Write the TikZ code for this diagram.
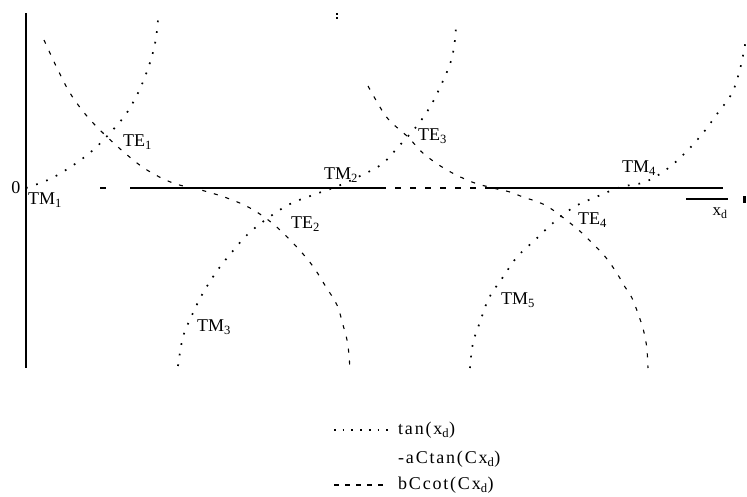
\documentclass[tikz,border=0pt]{standalone}
\usepackage{fontspec}
\setmainfont{Liberation Serif}
\newfontfamily\legfont[LetterSpace=10]{Liberation Serif}
\begin{document}
\begin{tikzpicture}[x=1pt,y=-1pt,
  tancurve/.style={line width=1.7pt, dash pattern=on 1.7pt off 9pt},
  cotcurve/.style={line width=1.1pt, dash pattern=on 4pt off 8pt},
  axisline/.style={line width=1.6pt},
  lbl/.style={inner sep=0pt, anchor=west, font=\fontsize{18}{20}\selectfont},
  leg/.style={inner sep=0pt, anchor=west, font=\fontsize{18}{20}\selectfont\legfont}]
\useasboundingbox (0,0) rectangle (747,496);
% axes
\coordinate (ytop) at (26,13);
\coordinate (ybot) at (26,368);
\draw[axisline] (ytop) -- (ybot);
\coordinate (xa1) at (130,188);
\coordinate (xa2) at (380,188);
\coordinate (xa3) at (490,188);
\coordinate (xa4) at (723,188);
\draw[axisline] (xa1) -- (xa2);
\draw[line width=1.1pt, dash pattern=on 6pt off 9pt] (xa2) -- (xa3);
\draw[axisline] (xa3) -- (xa4);
\draw[line width=1.1pt] (100,188) -- (106,188);
\coordinate (xb1) at (686,199);
\coordinate (xb2) at (728,199);
\draw[axisline] (xb1) -- (xb2);
\fill (743,196) rectangle (746,203);
\fill (336,13) rectangle (338,15);
\fill (336,17) rectangle (338,19);
% tan branches (dotted)
\draw[tancurve] plot[smooth, tension=0.6] coordinates {(26,188) (50,179) (72,166) (92,151) (110,133) (126,114) (138,93) (146,74) (152,56) (156,38) (158,20)};
\draw[tancurve] plot[smooth, tension=0.6] coordinates {(178,366) (183,337) (192,315) (203,293) (217,271) (232,252) (248,234) (268,218) (290,204) (313,195) (338,186) (360,176) (382,164) (399,146) (416,127) (430,107) (442,83) (451,61) (455,40) (456,22)};
\draw[tancurve] plot[smooth, tension=0.6] coordinates {(470,368) (473,343) (480,322) (489,298) (503,277) (517,257) (535,240) (553,223) (574,207) (596,197) (621,187) (645,182) (667,169) (686,152) (703,133) (717,114) (732,93) (740,69) (745,45) (746,38)};
% cot branches (dashed)
\draw[cotcurve] plot[smooth, tension=0.6] coordinates {(44,40) (57,68) (70,93) (86,115) (103,133) (126,154) (147,170) (173,183) (201,190) (227,198) (250,208) (272,223) (293,243) (312,265) (326,287) (337,305) (343,325) (347,340) (349,355) (350,372)};
\draw[cotcurve] plot[smooth, tension=0.6] coordinates {(368,86) (377,102) (385,115) (393,124) (408,137) (424,154) (447,170) (472,182) (493,188) (510,192) (523,197) (538,202) (550,208) (570,223) (582,233) (592,243) (602,253) (610,263) (618,275) (625,287) (632,298) (641,322) (645,337) (647,350) (648,368)};
% labels
\node[inner sep=0pt, font=\fontsize{18}{20}\selectfont] (zero) at (16,188) {0};
\node[lbl] (tm1) at (28,200) {TM\textsubscript{1}};
\node[lbl] (te1) at (123,142) {TE\textsubscript{1}};
\node[lbl] (tm2) at (324,175) {TM\textsubscript{2}};
\node[lbl] (te2) at (291,224) {TE\textsubscript{2}};
\node[lbl] (tm3) at (197,327) {TM\textsubscript{3}};
\node[lbl] (te3) at (418,136) {TE\textsubscript{3}};
\node[lbl] (tm4) at (622,168) {TM\textsubscript{4}};
\node[lbl] (te4) at (578,220) {TE\textsubscript{4}};
\node[lbl] (tm5) at (501,300) {TM\textsubscript{5}};
\node[inner sep=0pt, font=\fontsize{17}{20}\selectfont] (xd) at (720,213) {x\textsubscript{d}};
% legend
\coordinate (l1a) at (334,430);
\coordinate (l1b) at (388,430);
\draw[line width=1.7pt, dash pattern=on 1.7pt off 7pt] (l1a) -- (l1b);
\node[leg] (leg1) at (398,430) {tan(x\textsubscript{d})};
\node[leg] (leg2) at (398,459) {-aCtan(Cx\textsubscript{d})};
\coordinate (l3a) at (334,485);
\coordinate (l3b) at (388,485);
\draw[line width=1.1pt, dash pattern=on 5pt off 6pt] (l3a) -- (l3b);
\node[leg] (leg3) at (398,485) {bCcot(Cx\textsubscript{d})};
\end{tikzpicture}
\end{document}
